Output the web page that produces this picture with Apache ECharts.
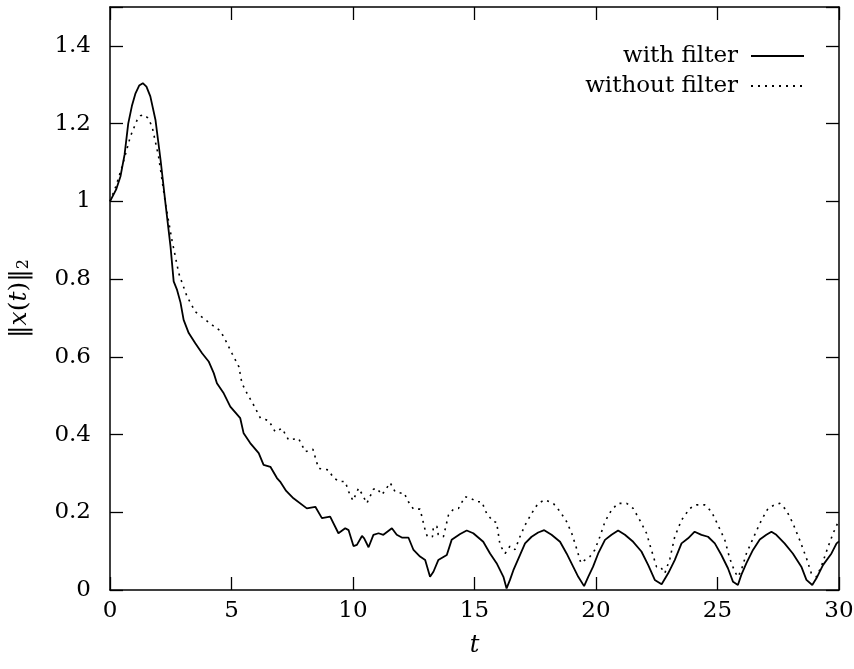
<!DOCTYPE html>
<html>
<head>
<meta charset="utf-8">
<script src="https://cdn.jsdelivr.net/npm/echarts@6/dist/echarts.min.js"></script>
<style>html,body{margin:0;padding:0;background:#fff}#c{width:854px;height:669px}</style>
</head>
<body>
<div id="c"></div>
<script>
var seriesNames = ['with filter', 'without filter'];
var xTicks = [0, 5, 10, 15, 20, 25, 30];
var yTicks = [0, 0.2, 0.4, 0.6, 0.8, 1, 1.2, 1.4];

var withFilter = [
 [0,1.0],[0.25,1.03],[0.43,1.064],[0.6,1.12],[0.75,1.2],[0.9,1.245],[1.05,1.278],[1.2,1.298],[1.35,1.304],[1.5,1.295],[1.66,1.27],[1.87,1.21],[2.08,1.107],
 [2.28,0.996],[2.49,0.884],[2.62,0.794],[2.76,0.772],[2.9,0.74],[3.03,0.695],[3.24,0.661],[3.51,0.635],
 [3.79,0.609],[4.06,0.588],[4.27,0.558],[4.4,0.532],[4.68,0.506],[4.95,0.472],[5.36,0.442],[5.5,0.403],
 [5.77,0.378],[6.12,0.352],[6.32,0.322],[6.6,0.317],[6.87,0.288],[7.0,0.279],[7.25,0.255],[7.55,0.236],
 [8.1,0.21],[8.45,0.214],[8.72,0.185],[9.06,0.189],[9.4,0.146],[9.68,0.159],[9.82,0.154],[10.02,0.113],
 [10.16,0.116],[10.37,0.139],[10.46,0.133],[10.64,0.11],[10.84,0.142],[11.05,0.146],[11.25,0.142],[11.6,0.159],
 [11.8,0.142],[12.01,0.135],[12.28,0.135],[12.49,0.103],[12.76,0.086],[12.97,0.077],[13.17,0.034],[13.31,0.047],
 [13.51,0.077],[13.86,0.09],[14.06,0.129],[14.41,0.144],[14.68,0.153],[14.95,0.146],[15.36,0.124],[15.64,0.094],
 [15.91,0.069],[16.19,0.034],[16.32,0.004],[16.46,0.026],[16.6,0.051],[16.87,0.09],[17.08,0.12],[17.35,0.137],
 [17.62,0.148],[17.87,0.154],[18.17,0.142],[18.52,0.124],[18.79,0.094],[19.06,0.06],[19.27,0.034],[19.51,0.01],
 [19.68,0.034],[19.88,0.06],[20.09,0.094],[20.37,0.129],[20.64,0.142],[20.91,0.153],[21.19,0.142],[21.53,0.124],
 [21.87,0.099],[22.15,0.064],[22.42,0.026],[22.7,0.015],[22.97,0.043],[23.24,0.077],[23.52,0.12],[23.79,0.133],
 [24.06,0.15],[24.34,0.142],[24.61,0.137],[24.89,0.12],[25.16,0.09],[25.43,0.056],[25.64,0.021],[25.84,0.013],
 [25.98,0.039],[26.19,0.069],[26.46,0.103],[26.74,0.13],[27.01,0.142],[27.22,0.15],[27.42,0.142],[27.76,0.12],
 [28.1,0.094],[28.45,0.06],[28.66,0.026],[28.9,0.013],[29.07,0.03],[29.34,0.064],[29.69,0.094],[29.9,0.12],[30,0.125]
];

var withoutFilter = [
 [0,1.0],[0.25,1.04],[0.5,1.09],[0.84,1.167],[1.12,1.21],[1.25,1.22],[1.39,1.223],[1.55,1.215],[1.73,1.193],[2.0,1.115],[2.28,0.995],
 [2.55,0.9],[2.83,0.815],[2.9,0.802],[3.17,0.755],[3.51,0.716],[3.79,0.702],[4.2,0.682],[4.54,0.667],
 [4.75,0.643],[5.02,0.609],[5.3,0.575],[5.43,0.532],[5.64,0.506],[5.91,0.476],[6.19,0.442],[6.53,0.436],
 [6.8,0.407],[7.08,0.416],[7.35,0.386],[7.76,0.39],[8.04,0.356],[8.35,0.362],[8.58,0.313],[8.99,0.309],
 [9.2,0.288],[9.47,0.279],[9.68,0.279],[9.82,0.253],[10.0,0.23],[10.23,0.262],[10.37,0.247],[10.57,0.223],
 [10.84,0.259],[10.98,0.262],[11.19,0.245],[11.33,0.257],[11.53,0.276],[11.73,0.253],[12.01,0.249],[12.1,0.25],
 [12.28,0.227],[12.49,0.208],[12.76,0.208],[12.97,0.154],[13.06,0.137],[13.27,0.137],[13.31,0.163],[13.45,0.164],
 [13.51,0.142],[13.72,0.137],[13.93,0.193],[14.13,0.208],[14.34,0.21],[14.61,0.24],[14.82,0.237],[15.09,0.227],
 [15.3,0.227],[15.5,0.197],[15.77,0.176],[15.91,0.174],[16.05,0.116],[16.26,0.094],[16.46,0.113],[16.67,0.104],
 [16.87,0.137],[17.08,0.167],[17.35,0.197],[17.62,0.223],[17.9,0.232],[18.24,0.223],[18.52,0.202],[18.79,0.176],
 [19.0,0.146],[19.2,0.107],[19.38,0.069],[19.54,0.077],[19.75,0.086],[19.95,0.103],[20.16,0.137],[20.37,0.176],
 [20.64,0.206],[20.91,0.223],[21.26,0.223],[21.53,0.21],[21.8,0.18],[22.08,0.146],[22.28,0.103],[22.49,0.06],
 [22.65,0.06],[22.83,0.043],[23.04,0.08],[23.24,0.137],[23.52,0.18],[23.86,0.21],[24.13,0.219],[24.47,0.219],
 [24.75,0.202],[25.02,0.167],[25.3,0.129],[25.5,0.082],[25.71,0.047],[25.84,0.034],[25.98,0.051],[26.19,0.094],
 [26.53,0.142],[26.81,0.18],[27.08,0.21],[27.35,0.219],[27.56,0.223],[27.83,0.206],[28.1,0.172],[28.38,0.129],
 [28.66,0.082],[28.86,0.043],[29.07,0.034],[29.27,0.06],[29.55,0.111],[29.76,0.146],[30,0.18]
];

var FONT = 'DejaVu Serif';
var chart = echarts.init(document.getElementById('c'), null, {renderer: 'canvas'});
var axisLine = {show: true, onZero: false, lineStyle: {color: '#000', width: 1.5}};
var tickIn = {show: true, inside: true, length: 13, lineStyle: {color: '#000', width: 1.3}};

chart.setOption({
  animation: false,
  backgroundColor: '#fff',
  grid: {left: 110, right: 15, top: 7, bottom: 79, containLabel: false, outerBoundsMode: 'none'},
  legend: {
    orient: 'vertical', right: 44, top: 38, align: 'right',
    itemWidth: 53, itemHeight: 14, itemGap: 4,
    data: seriesNames,
    itemStyle: {opacity: 0, borderWidth: 0},
    textStyle: {fontFamily: FONT, fontSize: 23, color: '#000', padding: [0, 8, 0, 0], lineHeight: 26}
  },
  xAxis: [{
    type: 'value', min: xTicks[0], max: xTicks[xTicks.length - 1], interval: 5, position: 'bottom',
    axisLine: axisLine, axisTick: tickIn, splitLine: {show: false},
    axisLabel: {fontFamily: FONT, fontSize: 23, color: '#000', margin: 10},
    name: 't', nameLocation: 'middle', nameGap: 44,
    nameTextStyle: {fontFamily: FONT, fontSize: 24, fontStyle: 'italic', color: '#000'}
  }, {
    type: 'value', min: xTicks[0], max: xTicks[xTicks.length - 1], interval: 5, position: 'top',
    axisLine: axisLine, axisTick: tickIn, splitLine: {show: false}, axisLabel: {show: false}
  }],
  yAxis: [{
    type: 'value', min: 0, max: 1.5, interval: 0.2, position: 'left',
    axisLine: axisLine, axisTick: tickIn, splitLine: {show: false},
    axisLabel: {fontFamily: FONT, fontSize: 23, color: '#000', margin: 19,
      formatter: function (v) { return v > yTicks[yTicks.length - 1] + 0.01 ? '' : String(Math.round(v * 10) / 10); }},
    name: '{n|‖}{i|x}{n|(}{i|t}{n|)‖}{s|2}', nameLocation: 'middle', nameGap: 78, nameRotate: 90,
    nameTextStyle: {
      color: '#000',
      rich: {
        n: {fontFamily: FONT, fontSize: 25, color: '#000'},
        i: {fontFamily: FONT, fontSize: 25, fontStyle: 'italic', color: '#000'},
        s: {fontFamily: FONT, fontSize: 16, color: '#000', padding: [10, 0, 0, 0]}
      }
    }
  }, {
    type: 'value', min: 0, max: 1.5, interval: 0.2, position: 'right',
    axisLine: axisLine, axisTick: tickIn, splitLine: {show: false}, axisLabel: {show: false}
  }],
  series: [{
    name: seriesNames[0], type: 'line', data: withFilter, symbol: 'none', smooth: false,
    lineStyle: {color: '#000', width: 1.8, type: 'solid'}, itemStyle: {color: '#000'}
  }, {
    name: seriesNames[1], type: 'line', data: withoutFilter, symbol: 'none', smooth: false,
    lineStyle: {color: '#000', width: 1.6, type: [2, 5]}, itemStyle: {color: '#000'}
  }]
});
</script>
</body>
</html>
